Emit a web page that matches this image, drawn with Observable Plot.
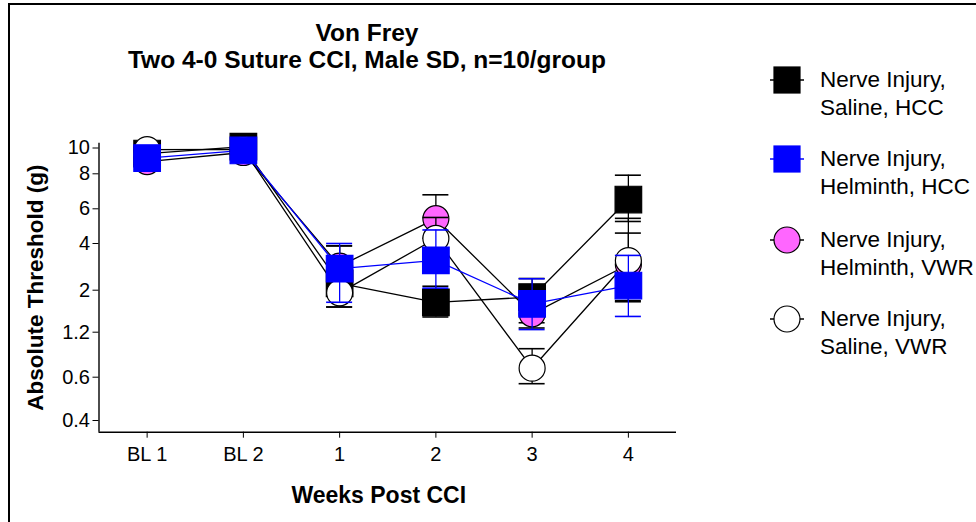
<!DOCTYPE html>
<html>
<head>
<meta charset="utf-8">
<script src="https://cdn.jsdelivr.net/npm/d3@7"></script>
<script src="https://cdn.jsdelivr.net/npm/@observablehq/plot@0.6"></script>
<style>
  body { margin: 0; background: #fff; }
  #wrap { position: relative; width: 976px; height: 522px; overflow: hidden; background: #fff;
          font-family: "Liberation Sans", Arial, sans-serif; }
  #border { position: absolute; left: 8px; top: 3px; width: 1100px; height: 700px;
            border: 2px solid #000; box-sizing: border-box; pointer-events: none; }
  #chart { position: absolute; left: 0; top: 0; }
  .title { position: absolute; left: 0; width: 734px; text-align: center; font-weight: bold;
           font-size: 24.5px; line-height: 27px; color: #000; }
  .leg { position: absolute; left: 768px; }
  .leg svg { position: absolute; left: 0; }
  .leg div { position: absolute; left: 52px; font-size: 22.5px; line-height: 28px; white-space: nowrap; color: #000; }
</style>
</head>
<body>
<div id="wrap">
  <div id="chart"></div>
  <div class="title" style="top:19px">Von Frey<br>Two 4-0 Suture CCI, Male SD, n=10/group</div>
  <div id="legend"></div>
  <div id="border"></div>
</div>
<script>
// ---- data ----
const weeks = ["BL 1", "BL 2", "1", "2", "3", "4"];
const yTicks = [0.4, 0.6, 1.2, 2, 4, 6, 8, 10];

const groupNames = [
  ["Nerve Injury,", "Saline, HCC"],
  ["Nerve Injury,", "Helminth, HCC"],
  ["Nerve Injury,", "Helminth, VWR"],
  ["Nerve Injury,", "Saline, VWR"]
];

const salineHCC     = [9.57, 10.1, 2.29, 1.77, 1.87, 6.53];
const salineHCCLo   = [9.3,  9.9,  1.68, 1.49, 1.38, 5.27];
const salineHCCHi   = [9.85, 10.3, 3.9,  2.17, 2.5,  7.92];

const helminthHCC   = [9.22, 9.81, 2.92, 3.28, 1.74, 2.2];
const helminthHCCLo = [9.0,  9.6,  1.77, 2.09, 1.25, 1.5];
const helminthHCCHi = [9.45, 10.0, 4.0,  4.78, 2.49, 3.49];

const helminthVWR   = [8.95, 9.65, 3.03, 5.43, 1.55, 3.1];
const helminthVWRLo = [8.7,  9.45, 2.2,  4.3,  1.28, 1.8];
const helminthVWRHi = [9.2,  9.85, 3.9,  6.8,  1.9,  4.6];

const salineVWR     = [9.88, 9.9,  1.95, 4.29, 0.72, 3.27];
const salineVWRLo   = [9.7,  9.75, 1.68, 3.2,  0.57, 1.78];
const salineVWRHi   = [10.05,10.05,2.5,  5.5,  0.98, 5.45];

// ---- series styling (draw order: black, pink, white, blue) ----
const series = [
  {mean: salineHCC,   lo: salineHCCLo,   hi: salineHCCHi,   symbol: "square", fill: "#000000", stroke: "#000000", line: "#000000"},
  {mean: helminthVWR, lo: helminthVWRLo, hi: helminthVWRHi, symbol: "circle", fill: "#ff66ff", stroke: "#000000", line: "#000000"},
  {mean: salineVWR,   lo: salineVWRLo,   hi: salineVWRHi,   symbol: "circle", fill: "#ffffff", stroke: "#000000", line: "#000000"},
  {mean: helminthHCC, lo: helminthHCCLo, hi: helminthHCCHi, symbol: "square", fill: "#0000ff", stroke: "#0000ff", line: "#0000ff"}
];

const rows = s => s.mean.map((v, i) => ({i, v, lo: s.lo[i], hi: s.hi[i]}));

const marks = [];
// axis lines
marks.push(Plot.ruleY([0.346], {stroke: "#000", strokeWidth: 1.4}));
marks.push(Plot.ruleX([-0.5], {stroke: "#000", strokeWidth: 1.4}));
// connecting lines
for (const s of series) {
  marks.push(Plot.line(rows(s), {x: "i", y: "v", stroke: s.line, strokeWidth: 1.3}));
}
// error bars then markers per series
for (const s of series) {
  const d = rows(s);
  const eb = s.line;
  marks.push(Plot.ruleX(d, {x: "i", y1: "lo", y2: "hi", stroke: eb, strokeWidth: 1.3}));
  marks.push(Plot.ruleY(d, {x1: "i", x2: "i", y: "lo", stroke: eb, strokeWidth: 1.6, insetLeft: -13, insetRight: -13}));
  marks.push(Plot.ruleY(d, {x1: "i", x2: "i", y: "hi", stroke: eb, strokeWidth: 1.6, insetLeft: -13, insetRight: -13}));
  marks.push(Plot.dot(d, {x: "i", y: "v", symbol: s.symbol, r: s.symbol === "square" ? 15 : 13,
    fill: s.fill, stroke: s.stroke, strokeWidth: 1.2}));
}
// axes
marks.push(Plot.axisX({ticks: d3.range(weeks.length), tickFormat: i => weeks[i], tickSize: 6, tickPadding: 9,
  fontSize: 20, label: null}));
marks.push(Plot.axisY({ticks: yTicks, tickFormat: d => String(d), tickSize: 6, tickPadding: 3,
  fontSize: 20, label: null}));
// axis titles
marks.push(Plot.text(["Absolute Threshold (g)"], {frameAnchor: "left", text: d => d, rotate: -90, dx: -63,
  textAnchor: "middle", lineAnchor: "middle", fontSize: 22.5, fontWeight: "bold", fill: "#000"}));
marks.push(Plot.text(["Weeks Post CCI"], {frameAnchor: "bottom", text: d => d, dy: 63, dx: -9,
  textAnchor: "middle", lineAnchor: "middle", fontSize: 23, fontWeight: "bold", fill: "#000"}));

const plot = Plot.plot({
  width: 976,
  height: 522,
  marginLeft: 98.5,
  marginRight: 300,
  marginTop: 142.7,
  marginBottom: 90.3,
  style: {fontFamily: "'Liberation Sans', Arial, sans-serif", color: "#000", background: "transparent", overflow: "visible"},
  x: {type: "linear", domain: [-0.5, 5.5], range: [98.5, 676]},
  y: {type: "linear",
      domain: [0.346, 0.4, 0.6, 1.2, 2, 4, 6, 8, 10, 10.37],
      range:  [431.7, 420, 376.7, 331.7, 289.7, 243, 208.3, 173.3, 147.5, 142.7]},
  marks
});
document.getElementById("chart").appendChild(plot);

// ---- legend ----
const legendOrder = [
  {idx: 0, symbol: "square", fill: "#000000", stroke: "#000000", line: "#000000", top: 66},
  {idx: 1, symbol: "square", fill: "#0000ff", stroke: "#0000ff", line: "#0000ff", top: 145},
  {idx: 2, symbol: "circle", fill: "#ff66ff", stroke: "#000000", line: "#000000", top: 226},
  {idx: 3, symbol: "circle", fill: "#ffffff", stroke: "#000000", line: "#000000", top: 305}
];
const legend = document.getElementById("legend");
for (const l of legendOrder) {
  const item = document.createElement("div");
  item.className = "leg";
  item.style.top = l.top + "px";
  const shape = l.symbol === "square"
    ? `<rect x="6" y="1" width="26" height="26" fill="${l.fill}" stroke="${l.stroke}" stroke-width="1.2"/>`
    : `<circle cx="19" cy="14" r="13" fill="${l.fill}" stroke="${l.stroke}" stroke-width="1.2"/>`;
  item.innerHTML = `<svg width="40" height="30" style="top:0"><line x1="2" x2="36" y1="14" y2="14" stroke="${l.line}" stroke-width="1.3"/>${shape}</svg>` +
    `<div style="top:0px">${groupNames[l.idx][0]}<br>${groupNames[l.idx][1]}</div>`;
  legend.appendChild(item);
}
</script>
</body>
</html>
